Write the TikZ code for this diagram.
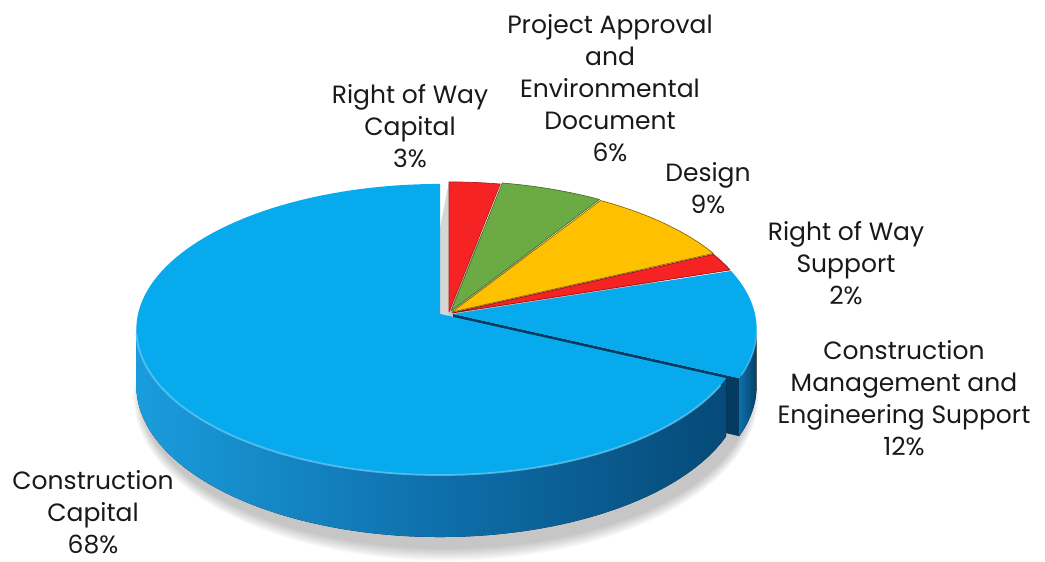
\documentclass[tikz,border=0pt]{standalone}
\usepackage{fontspec}
\setmainfont{Poppins}
\definecolor{pieblue}{RGB}{8,170,238}
\definecolor{sideL}{RGB}{26,156,220}
\definecolor{sideM}{RGB}{14,112,172}
\definecolor{sideR}{RGB}{6,74,120}
\definecolor{pieyellow}{RGB}{255,192,0}
\definecolor{piegreen}{RGB}{108,170,68}
\definecolor{piered}{RGB}{245,35,35}
\definecolor{wallgrey}{RGB}{214,214,214}
\definecolor{txt}{RGB}{25,25,25}
\begin{document}
\begin{tikzpicture}[x=1pt,y=1pt,
  declare function={
    rimx(\t)=302*cos(\t)/(1+0.1065*sin(\t));
    rimy(\t)=143.9*sin(\t)/(1+0.1065*sin(\t));
    rimh(\t)=55.4/(1+0.1065*sin(\t));
  },
  lbl/.style={align=center, font=\fontsize{25}{32}\selectfont, text=txt, inner sep=0pt},
  topface/.style={line width=0.7pt, line join=round},
  sideface/.style={left color=sideL, right color=sideR, middle color=sideM, shading angle=90},
]
\useasboundingbox (0,0) rectangle (1045,562);

% soft shadow
\begin{scope}[shift={(446,240)}]
  \foreach \i in {1,...,7}
    \fill[black,opacity=0.035]
      plot[domain=0:360,samples=90,smooth cycle]
      ({(1+0.004*\i)*rimx(\x)},{(1+0.012*\i)*rimy(\x)-rimh(\x)-2});
\end{scope}

% grey wall of the 3% slice seen through the gap
\coordinate (wa) at (449,380);
\coordinate (wb) at (449,250);
\coordinate (wc) at (440,203);
\coordinate (wd) at (440,334);
\fill[wallgrey] (wa) -- (wb) -- (wc) -- (wd) -- cycle;

% Right of Way Capital 3%
\begin{scope}[shift={(449,250)}]
  \coordinate (a1) at (0,0);
  \filldraw[topface,fill=piered,draw=piered!75!black]
    (a1) -- plot[domain=79.2:90,samples=12] ({rimx(\x)},{rimy(\x)}) -- cycle;
\end{scope}
% Project Approval 6%
\begin{scope}[shift={(451,251)}]
  \coordinate (a2) at (0,0);
  \filldraw[topface,fill=piegreen,draw=piegreen!65!black]
    (a2) -- plot[domain=57.6:79.2,samples=20] ({rimx(\x)},{rimy(\x)}) -- cycle;
\end{scope}
% Design 9%
\begin{scope}[shift={(452,250)}]
  \coordinate (a3) at (0,0);
  \filldraw[topface,fill=pieyellow,draw=pieyellow!55!black]
    (a3) -- plot[domain=25.2:57.6,samples=30] ({rimx(\x)},{rimy(\x)}) -- cycle;
\end{scope}
% Right of Way Support 2%
\begin{scope}[shift={(452,249)}]
  \coordinate (a4) at (0,0);
  \filldraw[topface,fill=piered,draw=piered!60!black]
    (a4) -- plot[domain=18:25.2,samples=10] ({rimx(\x)},{rimy(\x)}) -- cycle;
\end{scope}
% Construction Management 12%
\begin{scope}[shift={(453,248)}]
  \coordinate (a5) at (0,0);
  \fill[sideR!80!black]
    (a5) -- ({rimx(-25.2)},{rimy(-25.2)}) -- ({rimx(-25.2)},{rimy(-25.2)-rimh(-25.2)}) -- (0,-55.4) -- cycle;
  \fill[sideface,left color=sideM,middle color=sideR!90,right color=sideR!85!black]
    plot[domain=-25.2:-6.1,samples=30] ({rimx(\x)},{rimy(\x)})
    -- plot[domain=-25.2:-6.1,samples=30] ({rimx(-31.3-\x)},{rimy(-31.3-\x)-rimh(-31.3-\x)}) -- cycle;
  \fill[pieblue]
    (a5) -- plot[domain=-25.2:18,samples=40] ({rimx(\x)},{rimy(\x)}) -- cycle;
  \draw[white!40!pieblue,line width=1.5pt,opacity=0.6]
    plot[domain=-24:-7,samples=20] ({rimx(\x)},{rimy(\x)});
\end{scope}
% Construction Capital 68%
\begin{scope}[shift={(440,248)}]
  \coordinate (a6) at (0,0);
  \fill[sideface]
    plot[domain=186.1:334.8,samples=90] ({rimx(\x)},{rimy(\x)})
    -- plot[domain=186.1:334.8,samples=90] ({rimx(520.9-\x)},{rimy(520.9-\x)-rimh(520.9-\x)}) -- cycle;
  \fill[pieblue]
    (a6) -- plot[domain=90:334.8,samples=120] ({rimx(\x)},{rimy(\x)}) -- cycle;
  \draw[white!40!pieblue,line width=1.8pt,opacity=0.7]
    plot[domain=188:332,samples=80] ({rimx(\x)},{rimy(\x)});
\end{scope}

% labels
\node[lbl] (l1) at (410,436) {Right of Way\\Capital\\3\%};
\node[lbl] (l2) at (610,474) {Project Approval\\and\\Environmental\\Document\\6\%};
\node[lbl] (l3) at (708,374) {Design\\9\%};
\node[lbl] (l4) at (846,299) {Right of Way\\Support\\2\%};
\node[lbl] (l5) at (904,164) {Construction\\Management and\\Engineering Support\\12\%};
\node[lbl] (l6) at (93,50) {Construction\\Capital\\68\%};
\end{tikzpicture}
\end{document}
